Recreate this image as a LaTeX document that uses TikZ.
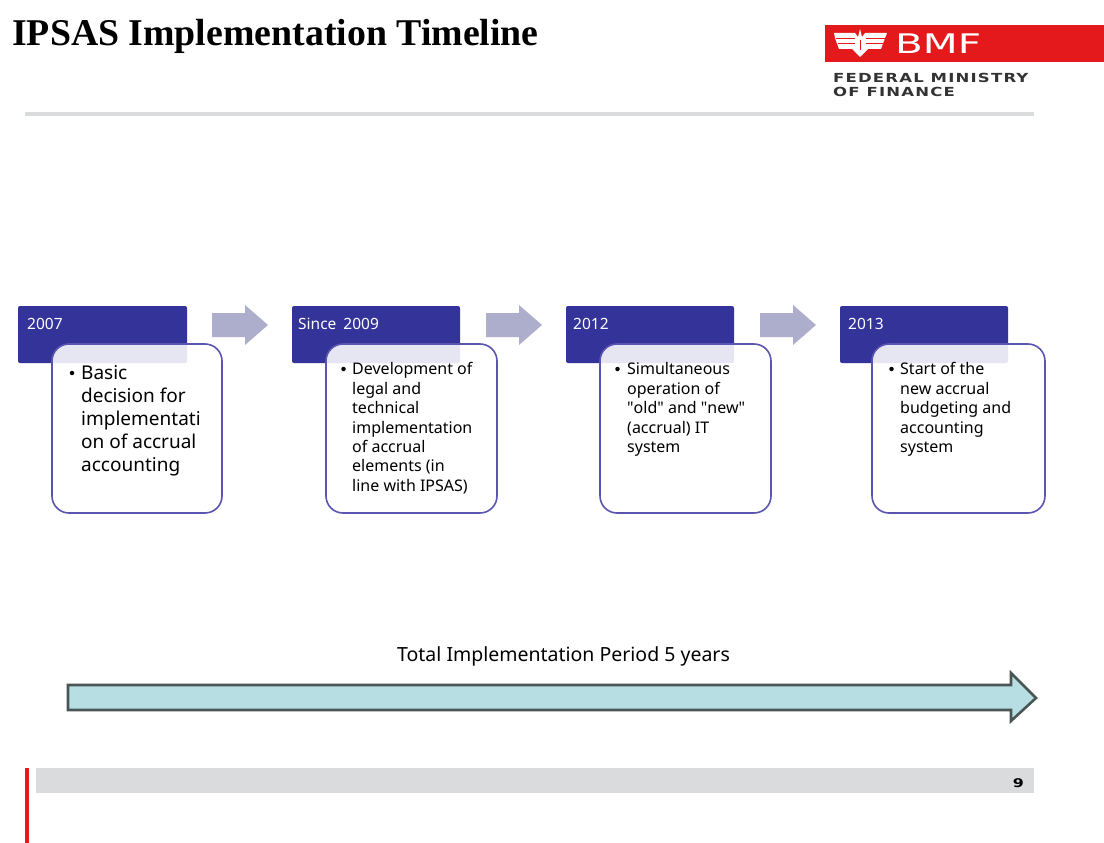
\documentclass[tikz,border=0pt]{standalone}
\usepackage{fontspec}
\setmainfont{Noto Sans}
\newfontfamily\plainq{Noto Sans}
\newfontfamily\titlefont{Liberation Serif}
\newfontfamily\logofont[FakeStretch=1.32]{DejaVu Sans}
\newfontfamily\bmffont[FakeStretch=1.5]{DejaVu Sans}
\usetikzlibrary{calc}
\definecolor{hdrblue}{HTML}{333399}
\definecolor{boxline}{HTML}{5A55B0}
\definecolor{chev}{HTML}{ADADCC}
\definecolor{teal}{HTML}{B7DFE3}
\definecolor{tealline}{HTML}{4A5656}
\definecolor{rulegrey}{HTML}{DADBDC}
\definecolor{bmfred}{HTML}{E3191B}
\tikzset{
  x=1pt,y=-1pt,
  hdr/.style={fill=hdrblue,rounded corners=2pt},
  cardbox/.style={draw=boxline,line width=1.6pt,fill=white,fill opacity=.88,draw opacity=1,rounded corners=17pt},
  chevron/.style={fill=chev},
  yeartxt/.style={anchor=base west,inner sep=0pt,text=white,font=\fontsize{15.5}{15.5}\selectfont},
  bigbody/.style={anchor=north west,inner sep=0pt,align=left,font=\fontsize{19}{23}\selectfont,text=black},
  smallbody/.style={anchor=north west,inner sep=0pt,align=left,font=\fontsize{16}{19.4}\selectfont,text=black},
  dot/.style={circle,fill=black,inner sep=0pt,minimum size=4.5pt},
}
\newcommand{\chevat}[1]{\fill[chevron] (#1,313) -- (#1+33,313) -- (#1+33,305) -- (#1+56,325) -- (#1+33,345) -- (#1+33,337) -- (#1,337) -- cycle;}
\begin{document}
\begin{tikzpicture}
\useasboundingbox (0,0) rectangle (1104,843);
\fill[white] (0,0) rectangle (1104,843);
% header
\node[anchor=base west,inner sep=0pt,font=\titlefont\bfseries\fontsize{37.8}{37.8}\selectfont] (title) at (12,46) {IPSAS Implementation Timeline};
\fill[rulegrey] (25,112.5) rectangle (1034,116);
% logo
\fill[bmfred] (825,25) rectangle (1104,62);
\begin{scope}[white]
  \fill (834,33) -- (855,33) -- (858,37) -- (860,29) -- (862,37) -- (865,33) -- (887,33) -- (885,38) -- (881,49) -- (868,49) -- (860,57) -- (852,49) -- (839,49) -- (835,38) -- cycle;
  \draw[bmfred,line width=.9pt] (836,38) -- (855,38) (838,43) -- (855,43) (866,38) -- (885,38) (866,43) -- (883,43) (860,40) -- (860,50);
\end{scope}
\node[anchor=base west,inner sep=0pt,text=white,font=\bmffont\fontsize{27}{27}\selectfont] (bmf) at (895,53.5) {BMF};
\node[anchor=base west,inner sep=0pt,font=\logofont\bfseries\fontsize{12.5}{12.5}\selectfont,text=black!80] (fed) at (833,82) {\addfontfeature{LetterSpace=9.5}FEDERAL MINISTRY};
\node[anchor=base west,inner sep=0pt,font=\logofont\bfseries\fontsize{12.5}{12.5}\selectfont,text=black!80] (fin) at (833,96) {\addfontfeature{LetterSpace=9.5}OF FINANCE};
% headers
\fill[hdr] (18,306) rectangle (187,363);
\fill[hdr] (292,306) rectangle (460,363);
\fill[hdr] (566,306) rectangle (734,363);
\fill[hdr] (840,306) rectangle (1008,363);
\node[yeartxt] (y1) at (27,329) {2007};
\node[yeartxt] (y2) at (298,329) {Since\hspace{3pt} 2009};
\node[yeartxt] (y3) at (573,329) {2012};
\node[yeartxt] (y4) at (848,329) {2013};
% chevrons
\chevat{212}
\chevat{486}
\chevat{760}
% cards
\draw[cardbox] (52,344) rectangle (222,513);
\draw[cardbox] (326,344) rectangle (497,513);
\draw[cardbox] (600,344) rectangle (771,513);
\draw[cardbox] (872,344) rectangle (1045,513);
% bullets
\node[dot] (b1) at (72,373) {};
\node[dot] (b2) at (343.5,369) {};
\node[dot] (b3) at (617.5,369) {};
\node[dot] (b4) at (891.5,369) {};
% texts
\node[bigbody] (t1) at (81,365.5) {Basic\\decision for\\implementati\\on of accrual\\accounting};
\node[smallbody] (t2) at (352,362.5) {Development of\\legal and\\technical\\implementation\\of accrual\\elements (in\\line with IPSAS)};
\node[smallbody] (t3) at (627,362.5) {Simultaneous\\operation of\\{\plainq"}old{\plainq"} and {\plainq"}new{\plainq"}\\(accrual) IT\\system};
\node[smallbody] (t4) at (900,362.5) {Start of the\\new accrual\\budgeting and\\accounting\\system};
% total arrow
\node[anchor=base,inner sep=0pt,font=\fontsize{19.5}{19.5}\selectfont] (total) at (563.5,661) {Total Implementation Period 5 years};
\draw[fill=teal,draw=tealline,line width=2.6pt,line join=miter] (68,685) -- (1011,685) -- (1011,673) -- (1036,698) -- (1011,721) -- (1011,710) -- (68,710) -- cycle;
% footer
\fill[rulegrey] (36,768) rectangle (1034,792.5);
\node[anchor=base east,inner sep=0pt,font=\logofont\bfseries\fontsize{12}{12}\selectfont] (page) at (1024,787) {9};
\fill[bmfred] (25,768) rectangle (29,843);
\end{tikzpicture}
\end{document}
